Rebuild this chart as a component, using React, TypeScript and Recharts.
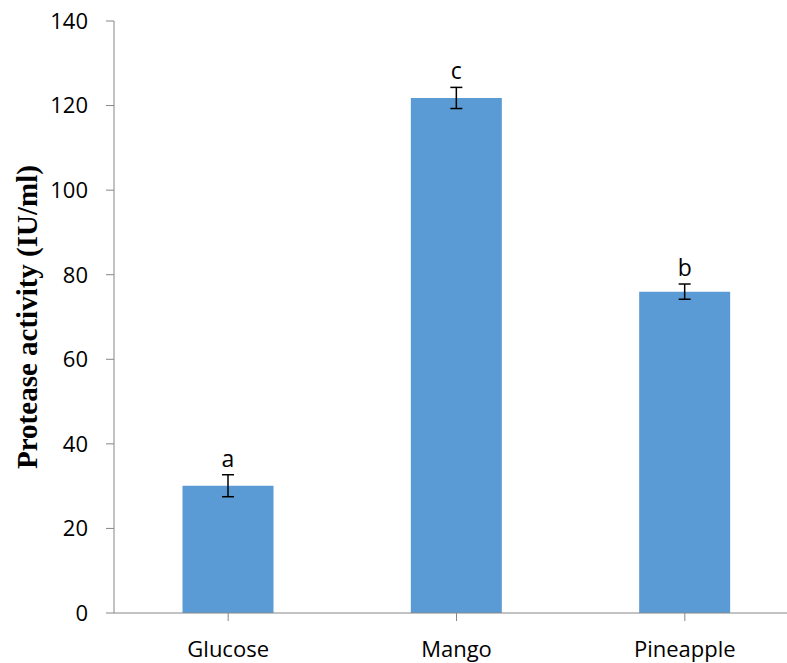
import { Bar, BarChart, ErrorBar, LabelList, XAxis, YAxis } from "recharts";

const categories = ["Glucose", "Mango", "Pineapple"];
const activity = [30.1, 121.8, 76.0];
const errors = [2.6, 2.5, 1.8];
const letters = ["a", "c", "b"];
const yTicks = [0, 20, 40, 60, 80, 100, 120, 140];

const data = categories.map((name, i) => ({
  name,
  value: activity[i],
  err: errors[i],
  letter: letters[i],
}));

const AXIS_COLOR = "#868686";
const TICK_FONT = { fontFamily: "Open Sans, sans-serif", fontSize: 22, fill: "#000" };

function LetterLabel(props: any) {
  const { x, y, width, height, value, index } = props;
  const pxPerUnit = height / activity[index];
  const top = y - errors[index] * pxPerUnit;
  return (
    <text
      x={x + width / 2}
      y={top - 8}
      textAnchor="middle"
      fontFamily="Open Sans, sans-serif"
      fontSize={23}
      fill="#000"
    >
      {value}
    </text>
  );
}

export default function App() {
  return (
    <div style={{ position: "absolute", left: 0, top: 0, width: 787, height: 663, overflow: "hidden", background: "#fff" }}>
      <BarChart
        width={800}
        height={663}
        data={data}
        margin={{ top: 21, right: 1, bottom: 0, left: 0 }}
        barCategoryGap="30%"
      >
        <XAxis
          dataKey="name"
          height={50}
          tick={{ ...TICK_FONT, dy: 18 }}
          tickLine={{ stroke: AXIS_COLOR }}
          axisLine={{ stroke: AXIS_COLOR }}
          tickSize={8}
          interval={0}
          padding={{ left: 0, right: 0 }}
        />
        <YAxis
          width={114}
          domain={[0, 140]}
          ticks={yTicks}
          tick={{ ...TICK_FONT, dx: -16 }}
          tickLine={{ stroke: AXIS_COLOR }}
          axisLine={{ stroke: AXIS_COLOR }}
          tickSize={8}
          label={{
            value: "Protease activity (IU/ml)",
            angle: -90,
            position: "insideLeft",
            dx: 22,
            style: {
              fontFamily: "Liberation Serif, Times New Roman, serif",
              fontWeight: "bold",
              fontSize: 29,
              fill: "#000",
              textAnchor: "middle",
            },
          }}
        />
        <Bar dataKey="value" fill="#5b9bd5" isAnimationActive={false}>
          <ErrorBar dataKey="err" width={6} stroke="#000" strokeWidth={1.5} direction="y" />
          <LabelList dataKey="letter" content={<LetterLabel />} />
        </Bar>
      </BarChart>
    </div>
  );
}
